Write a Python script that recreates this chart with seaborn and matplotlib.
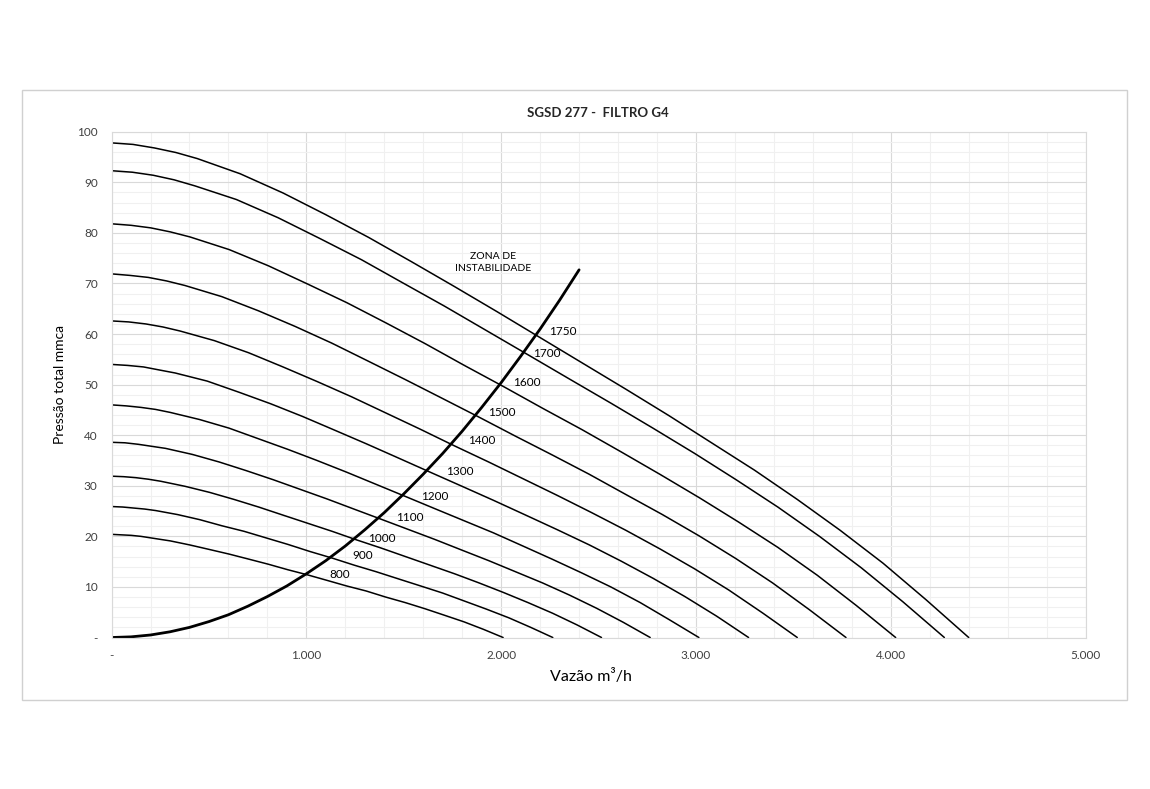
import matplotlib
matplotlib.use("Agg")
import matplotlib.pyplot as plt
import seaborn as sns
from matplotlib.patches import Rectangle
from matplotlib.ticker import MultipleLocator, FuncFormatter

# Curvas do ventilador (vazão m³/h x pressão mmca) por rotação
rpm_list = [1750, 1700, 1600, 1500, 1400, 1300, 1200, 1100, 1000, 900, 800]

vazao = {
    1750: [0, 110, 220, 330, 440, 660, 880, 1100, 1320, 1540, 1760, 1980, 2200, 2420, 2640, 2860, 3080, 3300, 3520, 3740, 3960, 4180, 4400],
    1700: [0, 107, 214, 321, 428, 641, 855, 1069, 1283, 1496, 1710, 1924, 2138, 2351, 2565, 2779, 2993, 3206, 3420, 3634, 3848, 4061, 4275],
    1600: [0, 101, 201, 302, 403, 604, 805, 1006, 1208, 1409, 1610, 1811, 2013, 2214, 2415, 2616, 2818, 3019, 3220, 3421, 3623, 3824, 4025],
    1500: [0, 94, 189, 283, 377, 566, 754, 943, 1131, 1320, 1508, 1697, 1885, 2074, 2262, 2451, 2639, 2828, 3016, 3205, 3393, 3582, 3770],
    1400: [0, 88, 176, 264, 352, 528, 704, 880, 1056, 1232, 1408, 1584, 1760, 1936, 2112, 2288, 2464, 2640, 2816, 2992, 3168, 3344, 3520],
    1300: [0, 82, 164, 245, 327, 491, 654, 818, 981, 1145, 1308, 1472, 1635, 1799, 1962, 2126, 2289, 2453, 2616, 2780, 2943, 3107, 3270],
    1200: [0, 75, 151, 226, 302, 452, 603, 754, 905, 1055, 1206, 1357, 1508, 1658, 1809, 1960, 2111, 2261, 2412, 2563, 2714, 2864, 3015],
    1100: [0, 69, 138, 207, 277, 415, 553, 691, 830, 968, 1106, 1244, 1383, 1521, 1659, 1797, 1936, 2074, 2212, 2350, 2489, 2627, 2765],
    1000: [0, 63, 126, 189, 252, 377, 503, 629, 755, 880, 1006, 1132, 1258, 1383, 1509, 1635, 1761, 1886, 2012, 2138, 2264, 2389, 2515],
    900:  [0, 57, 113, 170, 227, 340, 453, 566, 680, 793, 906, 1019, 1133, 1246, 1359, 1472, 1586, 1699, 1812, 1925, 2039, 2152, 2265],
    800:  [0, 50, 101, 151, 201, 302, 402, 503, 603, 704, 804, 905, 1005, 1106, 1206, 1307, 1407, 1508, 1608, 1709, 1809, 1910, 2010],
}

pressao = {
    1750: [97.8, 97.5, 96.8, 95.9, 94.7, 91.7, 87.9, 83.6, 79.1, 74.3, 69.4, 64.4, 59.3, 54.2, 49.1, 43.9, 38.5, 33.1, 27.3, 21.2, 14.7, 7.5, 0],
    1700: [92.3, 92.0, 91.4, 90.5, 89.3, 86.6, 83.0, 78.9, 74.7, 70.1, 65.5, 60.7, 55.9, 51.1, 46.3, 41.4, 36.4, 31.2, 25.8, 20.0, 13.8, 7.1, 0],
    1600: [81.8, 81.5, 81.0, 80.2, 79.2, 76.7, 73.5, 69.9, 66.2, 62.2, 58.1, 53.8, 49.6, 45.3, 41.1, 36.7, 32.2, 27.6, 22.8, 17.8, 12.3, 6.3, 0],
    1500: [71.9, 71.6, 71.2, 70.5, 69.6, 67.4, 64.6, 61.5, 58.2, 54.6, 51.0, 47.3, 43.6, 39.8, 36.1, 32.3, 28.3, 24.3, 20.1, 15.6, 10.8, 5.5, 0],
    1400: [62.6, 62.4, 62.0, 61.4, 60.6, 58.7, 56.3, 53.5, 50.6, 47.6, 44.4, 41.2, 37.9, 34.7, 31.4, 28.1, 24.7, 21.2, 17.5, 13.6, 9.4, 4.8, 0],
    1300: [54.0, 53.8, 53.5, 52.9, 52.3, 50.7, 48.5, 46.2, 43.7, 41.0, 38.3, 35.5, 32.7, 29.9, 27.1, 24.2, 21.3, 18.3, 15.1, 11.7, 8.1, 4.2, 0],
    1200: [46.0, 45.8, 45.5, 45.1, 44.5, 43.1, 41.4, 39.3, 37.2, 35.0, 32.7, 30.3, 27.9, 25.5, 23.1, 20.7, 18.1, 15.5, 12.8, 10.0, 6.9, 3.5, 0],
    1100: [38.6, 38.5, 38.2, 37.8, 37.4, 36.2, 34.7, 33.0, 31.2, 29.3, 27.4, 25.4, 23.4, 21.4, 19.4, 17.3, 15.2, 13.0, 10.8, 8.4, 5.8, 3.0, 0],
    1000: [31.9, 31.8, 31.6, 31.3, 30.9, 29.9, 28.7, 27.3, 25.8, 24.2, 22.6, 21.0, 19.3, 17.7, 16.0, 14.3, 12.6, 10.8, 8.9, 6.9, 4.8, 2.5, 0],
    900:  [25.9, 25.8, 25.6, 25.4, 25.1, 24.3, 23.3, 22.1, 21.0, 19.7, 18.4, 17.0, 15.7, 14.3, 13.0, 11.6, 10.2, 8.8, 7.2, 5.6, 3.9, 2.0, 0],
    800:  [20.4, 20.3, 20.2, 20.0, 19.7, 19.1, 18.3, 17.4, 16.5, 15.5, 14.5, 13.4, 12.4, 11.3, 10.2, 9.2, 8.0, 6.9, 5.7, 4.4, 3.1, 1.6, 0],
}

# Curva limite (zona de instabilidade)
inst_vazao = [0, 100, 200, 300, 400, 500, 600, 700, 800, 900, 1000, 1100, 1200,
              1300, 1400, 1500, 1600, 1700, 1800, 1900, 2000, 2100, 2200, 2300, 2400]
inst_pressao = [0, 0.13, 0.5, 1.13, 2.0, 3.15, 4.5, 6.2, 8.1, 10.2, 12.6, 15.2, 18.1,
                21.3, 24.7, 28.4, 32.3, 36.4, 40.8, 45.5, 50.4, 55.6, 61.0, 66.7, 72.7]

# Posição dos rótulos de rotação (coordenadas do gráfico)
rotulo_x = [2317, 2234, 2132, 2004, 1901, 1788, 1660, 1532, 1388, 1290, 1172]
rotulo_y = [60.5, 56.2, 50.5, 44.5, 38.9, 32.9, 27.9, 23.8, 19.6, 16.3, 12.5]

sns.set_style("white")
plt.rcParams["font.family"] = ["Lato", "DejaVu Sans"]

fig = plt.figure(figsize=(11.5, 7.89), dpi=100)
ax = fig.add_axes([0.097, 0.192, 0.847, 0.641])

for rpm in rpm_list:
    sns.lineplot(x=vazao[rpm], y=pressao[rpm], ax=ax, color="black",
                 linewidth=1.1, sort=False, estimator=None)

sns.lineplot(x=inst_vazao, y=inst_pressao, ax=ax, color="black",
             linewidth=2.0, sort=False, estimator=None)

for rpm, lx, ly in zip(rpm_list, rotulo_x, rotulo_y):
    ax.text(lx, ly, str(rpm), ha="center", va="center", fontsize=8.5, color="black")

ax.text(1960, 74.2, "ZONA DE\nINSTABILIDADE", ha="center", va="center",
        fontsize=7.5, color="black", linespacing=1.4)

ax.set_xlim(0, 5000)
ax.set_ylim(0, 100)
ax.xaxis.set_major_locator(MultipleLocator(1000))
ax.xaxis.set_minor_locator(MultipleLocator(200))
ax.yaxis.set_major_locator(MultipleLocator(10))
ax.yaxis.set_minor_locator(MultipleLocator(2))


def fmt(v, pos):
    if v == 0:
        return "-"
    return f"{int(round(v)):,}".replace(",", ".")


ax.xaxis.set_major_formatter(FuncFormatter(fmt))
ax.yaxis.set_major_formatter(FuncFormatter(lambda v, p: "-" if v == 0 else f"{int(v)}"))

ax.grid(which="major", color="#d9d9d9", linewidth=0.8)
ax.grid(which="minor", color="#f0f0f0", linewidth=0.8)
ax.set_axisbelow(True)
ax.tick_params(axis="both", which="major", length=3, width=0.8, color="#d9d9d9",
               labelsize=8.5, labelcolor="#404040", direction="out")
ax.tick_params(axis="x", which="major", pad=6)
ax.tick_params(axis="y", which="major", pad=7)
ax.tick_params(which="minor", length=0)
for s in ax.spines.values():
    s.set_color("#d9d9d9")
    s.set_linewidth(0.8)
ax.set_xlabel("")
ax.set_ylabel("")

fig.text(598 / 1150, 1 - 113 / 789, "SGSD 277 -  FILTRO G4", ha="center", va="center",
         fontsize=9.5, fontweight="bold", color="#262626")
fig.text(591 / 1150, 1 - 676 / 789, "Vazão m³/h", ha="center", va="center",
         fontsize=11.5, color="black")
fig.text(60 / 1150, 1 - 385 / 789, "Pressão total mmca", ha="center", va="center",
         fontsize=10, color="black", rotation=90)

fig.patches.append(Rectangle((22 / 1150, 1 - 700 / 789), 1105 / 1150, 610 / 789,
                             transform=fig.transFigure, fill=False,
                             edgecolor="#d0d0d0", linewidth=1))

fig.savefig("out.png", dpi=100)
